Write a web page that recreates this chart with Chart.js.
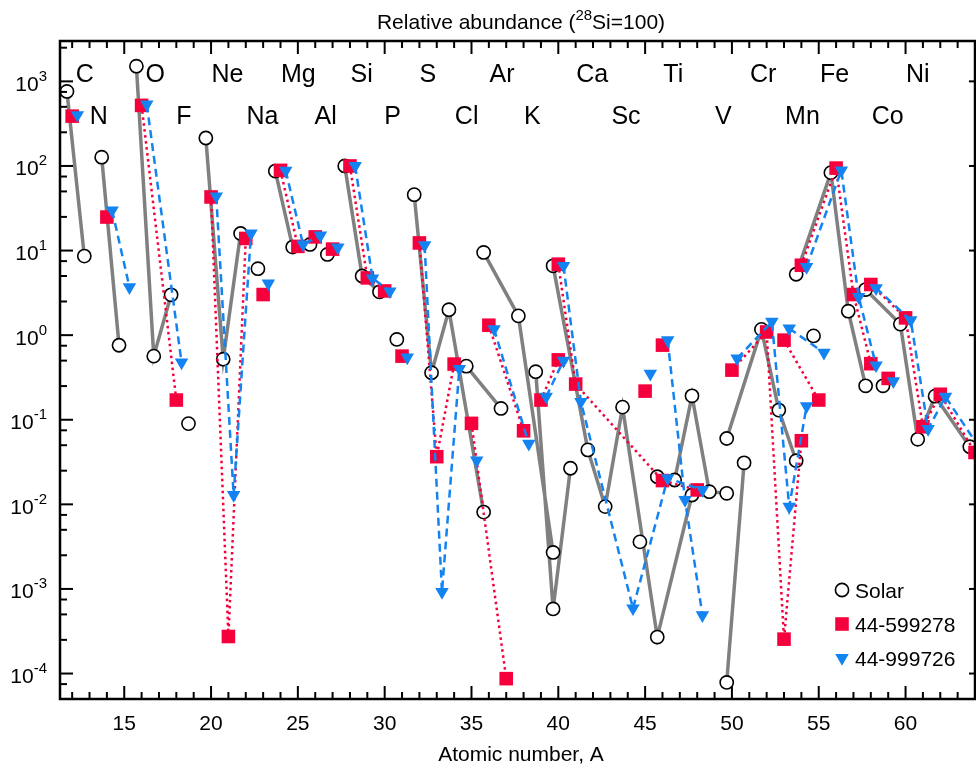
<!DOCTYPE html>
<html>
<head>
<meta charset="utf-8">
<script src="https://cdn.jsdelivr.net/npm/chart.js@4.4.1/dist/chart.umd.min.js"></script>
<style>
  html, body { margin: 0; padding: 0; background: #fff; }
  #caixa { width: 976px; height: 768px; }
</style>
</head>
<body>
<div id="caixa"><canvas id="myChart" width="976" height="768"></canvas></div>
<script>
// isotopos: elemento e numero de massa
const isoEl = ['C','C','N','N','O','O','O','F','Ne','Ne','Ne','Na','Mg','Mg','Mg','Al','Si','Si','Si','P',
  'S','S','S','S','Cl','Cl','Ar','Ar','Ar','K','K','K','Ca','Ca','Ca','Ca','Ca','Ca','Ca','Sc',
  'Ti','Ti','Ti','Ti','Ti','V','V','Cr','Cr','Cr','Cr','Mn','Mn','Fe','Fe','Fe','Fe','Co',
  'Ni','Ni','Ni','Ni','Ni'];
const isoA = [12,13,14,15,16,17,18,19,20,21,22,23,24,25,26,27,28,29,30,31,
  32,33,34,36,35,37,36,38,40,39,40,41,40,41,42,43,44,46,48,45,
  46,47,48,49,50,50,51,50,52,53,54,53,55,54,56,57,58,59,
  58,60,61,62,64];

// abundancias relativas (28Si = 100), null = nao tem
const solar = [760,8.6,127,0.76,1510,0.565,3.0,0.09,214,0.52,15.9,6.1,87,11,11.8,9.0,100,5.0,3.25,0.89,
  45.8,0.36,2.0,0.0081,0.43,0.136,9.5,1.69,0.0027,0.37,0.00058,0.0267,6.6,null,0.044,0.0094,0.141,0.00027,0.0129,0.0036,
  0.0212,0.0194,0.192,0.0141,0.0135,0.0000785,0.031,0.06,1.17,0.13,0.0328,null,0.98,5.25,83.4,1.92,0.252,0.252,
  3.46,1.35,0.0587,0.19,0.048];
const grao599278 = [388,null,24.9,null,520,null,0.171,null,43,0.000274,13.9,3.02,88.7,11.2,14.5,10.4,100,4.75,3.33,0.565,
  12.3,0.0366,0.455,null,0.0906,0.000087,1.31,0.074,null,0.171,0.51,null,6.9,0.264,null,null,null,0.0191,0.0148,0.218,
  0.762,null,null,null,null,null,null,0.386,1.09,0.000255,0.0565,0.873,0.171,6.7,94.4,3.02,0.46,0.308,
  3.97,1.6,0.0826,0.2,0.041];
const grao999726 = [400,null,29.9,3.7,534,null,0.476,null,43.8,0.0129,15.9,4.08,88,11.8,15.1,10.9,100,4.7,3.3,0.545,
  11.6,0.00092,0.40,null,0.033,null,1.18,0.052,null,0.187,0.5,null,6.6,0.163,null,null,0.00059,0.0204,0.0148,0.35,
  0.87,0.0113,0.00049,null,null,null,null,0.53,1.44,0.0094,0.145,1.2,0.62,6.4,88.7,2.83,0.44,0.286,
  3.6,1.5,0.0777,0.187,0.045];

// deslocamento horizontal de cada serie
const desloc = [-0.3, 0, 0.3];
const nomes = ['Solar', '44-599278', '44-999726'];

// ticks
const xMajor = [15,20,25,30,35,40,45,50,55,60];
const yDecadas = [-4,-3,-2,-1,0,1,2,3];
const yMinor = [2.5, 5, 7.5];

// nomes dos elementos no topo (linha 0 ou 1)
const elemNome = ['C','N','O','F','Ne','Na','Mg','Al','Si','P','S','Cl','Ar','K','Ca','Sc','Ti','V','Cr','Mn','Fe','Co','Ni'];
const elemX = [12.72,13.53,16.79,18.44,20.94,22.96,25.03,26.6,28.67,30.46,32.49,34.72,36.76,38.5,41.95,43.9,46.62,49.5,51.8,54.06,55.91,58.97,60.7];
const elemLinha = [0,1,0,1,0,1,0,1,0,1,0,1,0,1,0,1,0,1,0,1,0,1,0];

//monta os pontos, quebrando a linha entre elementos
function serie(vals, d){
  const out = [];
  for (let i = 0; i < isoA.length; i++){
    if (i > 0 && isoEl[i] != isoEl[i-1]) out.push({x: isoA[i] - 0.5, y: null});
    if (vals[i] != null) out.push({x: isoA[i] + d, y: vals[i]});
  }
  return out;
}

const FONTE = '"Liberation Sans", Arial, sans-serif';

// escreve texto com partes em sobrescrito
function textoSup(ctx, partes, x, y, alinha, tam, tamSup, sobe){
  let w = 0;
  partes.forEach(p => {
    ctx.font = (p[1] ? tamSup : tam) + 'px ' + FONTE;
    w += ctx.measureText(p[0]).width;
  });
  let cx = alinha == 'center' ? x - w/2 : (alinha == 'right' ? x - w : x);
  ctx.textAlign = 'left';
  partes.forEach(p => {
    ctx.font = (p[1] ? tamSup : tam) + 'px ' + FONTE;
    ctx.fillText(p[0], cx, p[1] ? y - sobe : y);
    cx += ctx.measureText(p[0]).width;
  });
}

function linha(ctx, x1, y1, x2, y2){
  ctx.beginPath(); ctx.moveTo(x1, y1); ctx.lineTo(x2, y2); ctx.stroke();
}

// moldura, ticks, textos e legenda
const eixos = {
  id: 'eixos',
  afterDraw(chart){
    const ctx = chart.ctx, a = chart.chartArea;
    const sx = chart.scales.x, sy = chart.scales.y;
    ctx.save();
    ctx.strokeStyle = '#000';
    ctx.fillStyle = '#000';
    ctx.lineWidth = 2.5;
    ctx.strokeRect(a.left, a.top, a.right - a.left, a.bottom - a.top);

    ctx.lineWidth = 2;
    for (let v = Math.ceil(sx.min); v <= sx.max; v++){
      const px = sx.getPixelForValue(v);
      const len = xMajor.includes(v) ? 13 : 7;
      linha(ctx, px, a.bottom, px, a.bottom - len);
      linha(ctx, px, a.top, px, a.top + len);
    }
    for (let d = -5; d <= 3; d++){
      const big = Math.pow(10, d);
      if (big >= sy.min && big <= sy.max){
        const py = sy.getPixelForValue(big);
        linha(ctx, a.left, py, a.left + 13, py);
        linha(ctx, a.right, py, a.right - 6, py);
      }
      yMinor.forEach(m => {
        const v = m * big;
        if (v > sy.min && v < sy.max){
          const py = sy.getPixelForValue(v);
          linha(ctx, a.left, py, a.left + 7, py);
        }
      });
    }

    // rotulos dos ticks
    ctx.textBaseline = 'alphabetic';
    xMajor.forEach(v => {
      ctx.font = '21px ' + FONTE;
      ctx.textAlign = 'center';
      ctx.fillText(String(v), sx.getPixelForValue(v), a.bottom + 31);
    });
    yDecadas.forEach(d => {
      const py = sy.getPixelForValue(Math.pow(10, d));
      textoSup(ctx, [['10', false], [String(d), true]], a.left - 13, py + 9.5, 'right', 21, 15, 10);
    });

    // titulo e eixo x
    textoSup(ctx, [['Relative abundance (', false], ['28', true], ['Si=100)', false]],
      521, 29, 'center', 21, 15, 9);
    ctx.font = '21px ' + FONTE;
    ctx.textAlign = 'center';
    ctx.fillText('Atomic number, A', 521, 761);

    // elementos
    ctx.font = '25px ' + FONTE;
    elemNome.forEach((n, i) => {
      ctx.fillText(n, sx.getPixelForValue(elemX[i]), a.top + (elemLinha[i] ? 83 : 40.7));
    });

    // legenda
    const lx = a.right - 133, ly = a.bottom - 109;
    chart.data.datasets.forEach((ds, i) => {
      const y = ly + i * 34;
      ctx.fillStyle = ds.pointBackgroundColor;
      ctx.strokeStyle = ds.pointBorderColor || ds.pointBackgroundColor;
      ctx.lineWidth = ds.pointBorderWidth || 0;
      Chart.helpers.drawPoint(ctx, {pointStyle: ds.pointStyle, rotation: ds.pointRotation || 0,
        radius: ds.pointRadius, borderWidth: ds.pointBorderWidth || 0}, lx, y);
      ctx.fillStyle = '#000';
      ctx.font = '21px ' + FONTE;
      ctx.textAlign = 'left';
      ctx.fillText(ds.label, lx + 13, y + 7.5);
    });
    ctx.restore();
  }
};

const data = {
  datasets: [
    {
      label: nomes[0],
      data: serie(solar, desloc[0]),
      borderColor: '#808080',
      borderWidth: 3.5,
      pointStyle: 'circle',
      pointRadius: 6.6,
      pointBackgroundColor: '#ffffff',
      pointBorderColor: '#000000',
      pointBorderWidth: 1.6,
      order: 3
    },
    {
      label: nomes[1],
      data: serie(grao599278, desloc[1]),
      borderColor: '#f5003c',
      borderWidth: 2.5,
      borderDash: [2.5, 3.5],
      pointStyle: 'rect',
      pointRadius: 9.6,
      pointBackgroundColor: '#f5003c',
      pointBorderWidth: 0,
      order: 2
    },
    {
      label: nomes[2],
      data: serie(grao999726, desloc[2]),
      borderColor: '#1283f0',
      borderWidth: 2.5,
      borderDash: [8, 5],
      pointStyle: 'triangle',
      pointRotation: 180,
      pointRadius: 7.8,
      pointBackgroundColor: '#1283f0',
      pointBorderWidth: 0,
      order: 1
    }
  ]
};

const config = {
  type: 'line',
  data: data,
  options: {
    responsive: false,
    animation: false,
    spanGaps: false,
    layout: { autoPadding: false, padding: { left: 60, right: 1, top: 41, bottom: 69 } },
    plugins: { legend: { display: false }, tooltip: { enabled: false } },
    scales: {
      x: { type: 'linear', min: 11.3, max: 64, display: false,
           ticks: { display: false }, grid: { display: false } },
      y: { type: 'logarithmic', min: 5e-5, max: 3e3, display: false,
           ticks: { display: false }, grid: { display: false } }
    }
  },
  plugins: [eixos]
};

const myChart = new Chart(document.getElementById('myChart'), config);
</script>
</body>
</html>
